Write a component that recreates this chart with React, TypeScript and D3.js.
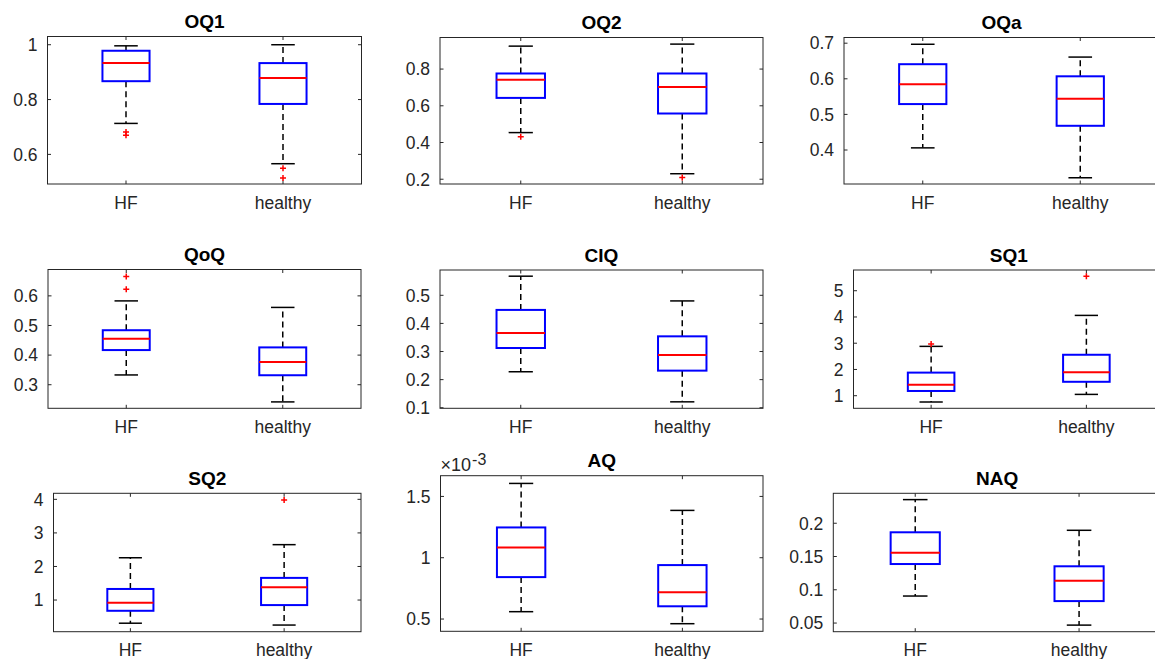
import React, { useEffect, useRef } from "react";
import * as d3 from "d3";

// nine measures, two groups each
const panelTitles = ["OQ1", "OQ2", "OQa", "QoQ", "CIQ", "SQ1", "SQ2", "AQ", "NAQ"];
const groups = ["HF", "healthy"];

// [lower whisker, Q1, median, Q3, upper whisker]
const hfStats = [
  [0.713, 0.867, 0.933, 0.978, 0.996],
  [0.454, 0.643, 0.742, 0.776, 0.925],
  [0.406, 0.529, 0.585, 0.641, 0.697],
  [0.333, 0.417, 0.455, 0.484, 0.583],
  [0.228, 0.3125, 0.366, 0.448, 0.568],
  [0.76, 1.18, 1.42, 1.88, 2.88],
  [0.31, 0.68, 0.92, 1.33, 2.26],
  [0.00056, 0.000842, 0.001084, 0.001247, 0.001606],
  [0.0906, 0.1387, 0.1558, 0.1864, 0.2355],
];
const healthyStats = [
  [0.566, 0.784, 0.879, 0.933, 1.0],
  [0.23, 0.558, 0.702, 0.776, 0.936],
  [0.322, 0.468, 0.544, 0.607, 0.661],
  [0.242, 0.332, 0.3765, 0.426, 0.561],
  [0.121, 0.232, 0.2875, 0.354, 0.48],
  [1.05, 1.53, 1.89, 2.56, 4.06],
  [0.255, 0.85, 1.38, 1.66, 2.65],
  [0.000462, 0.000604, 0.000718, 0.00094, 0.001386],
  [0.0469, 0.083, 0.1136, 0.1353, 0.1894],
];
const hfOutliers = [[0.682, 0.67], [0.432], [], [0.665, 0.622], [], [2.97], [], [], []];
const healthyOutliers = [[0.549, 0.514], [0.209], [], [], [], [5.55], [3.98], [], []];

const yTicks = [
  [0.6, 0.8, 1],
  [0.2, 0.4, 0.6, 0.8],
  [0.4, 0.5, 0.6, 0.7],
  [0.3, 0.4, 0.5, 0.6],
  [0.1, 0.2, 0.3, 0.4, 0.5],
  [1, 2, 3, 4, 5],
  [1, 2, 3, 4],
  [0.0005, 0.001, 0.0015],
  [0.05, 0.1, 0.15, 0.2],
];
const yLimits = [
  [0.492, 1.03],
  [0.174, 0.972],
  [0.3045, 0.716],
  [0.2204, 0.689],
  [0.098, 0.59],
  [0.52, 5.79],
  [0.057, 4.18],
  [0.0004, 0.001669],
  [0.037, 0.245],
];
const yExponents = [0, 0, 0, 0, 0, 0, 0, -3, 0];

// axes rectangles in px: [left, top, right, bottom]
const axesRects = [
  [47.5, 36.5, 361.5, 184],
  [440, 37.5, 763, 184],
  [844, 37.5, 1159, 184],
  [48, 269.5, 361, 408.3],
  [440, 270, 763, 408.3],
  [853.5, 270, 1164, 408.3],
  [53.5, 493.3, 361, 631.7],
  [440.5, 475.7, 763, 631.3],
  [833.3, 493.3, 1161, 631.7],
];

const FONT = "'Liberation Sans', Arial, Helvetica, sans-serif";
const AXIS = "#262626";

const App = () => {
  const svgRef = useRef<SVGSVGElement>(null);

  useEffect(() => {
    const svg = d3.select(svgRef.current);
    svg.selectAll("*").remove();
    svg.append("rect").attr("width", 1155).attr("height", 659).attr("fill", "#fff");

    panelTitles.forEach((title, i) => {
      const [x0, y0, x1, y1] = axesRects[i];
      const x = d3.scaleLinear([0.5, 2.5], [x0, x1]);
      const y = d3.scaleLinear(yLimits[i], [y1, y0]);
      const g = svg.append("g");
      const scale = Math.pow(10, yExponents[i]);
      const fmt = (v: number) => String(+(v / scale).toFixed(6));

      // axes box
      g.append("rect")
        .attr("x", x0).attr("y", y0)
        .attr("width", x1 - x0).attr("height", y1 - y0)
        .attr("fill", "#fff").attr("stroke", AXIS).attr("stroke-width", 1);

      // y ticks (inward, both sides)
      yTicks[i].forEach((t) => {
        const yy = y(t);
        g.append("line").attr("x1", x0).attr("x2", x0 + 3.5).attr("y1", yy).attr("y2", yy)
          .attr("stroke", AXIS).attr("stroke-width", 1);
        g.append("line").attr("x1", x1).attr("x2", x1 - 3.5).attr("y1", yy).attr("y2", yy)
          .attr("stroke", AXIS).attr("stroke-width", 1);
        g.append("text")
          .attr("x", x0 - 10).attr("y", yy).attr("dy", "0.36em")
          .attr("text-anchor", "end")
          .attr("font-family", FONT).attr("font-size", 17.5).attr("fill", AXIS)
          .text(fmt(t));
      });

      // x ticks and labels
      groups.forEach((name, k) => {
        const xx = x(k + 1);
        g.append("line").attr("x1", xx).attr("x2", xx).attr("y1", y1).attr("y2", y1 - 3.5)
          .attr("stroke", AXIS).attr("stroke-width", 1);
        g.append("line").attr("x1", xx).attr("x2", xx).attr("y1", y0).attr("y2", y0 + 3.5)
          .attr("stroke", AXIS).attr("stroke-width", 1);
        g.append("text")
          .attr("x", xx).attr("y", y1 + 24.5)
          .attr("text-anchor", "middle")
          .attr("font-family", FONT).attr("font-size", 17.5).attr("fill", AXIS)
          .text(name);
      });

      // title
      g.append("text")
        .attr("x", (x0 + x1) / 2).attr("y", y0 - 8.3)
        .attr("text-anchor", "middle")
        .attr("font-family", FONT).attr("font-size", 19).attr("font-weight", "bold")
        .attr("fill", "#000")
        .text(title);

      // exponent label
      if (yExponents[i] !== 0) {
        const t = g.append("text")
          .attr("x", x0).attr("y", y0 - 4.5)
          .attr("font-family", FONT).attr("font-size", 18).attr("fill", AXIS);
        t.append("tspan").text("\u00d710");
        t.append("tspan").attr("font-size", 16).attr("dy", -6).attr("dx", 1)
          .text(String(yExponents[i]));
      }

      // boxes
      const allStats = [hfStats[i], healthyStats[i]];
      const allOut = [hfOutliers[i], healthyOutliers[i]];
      allStats.forEach((s, k) => {
        const c = k + 1;
        const [lo, q1, med, q3, hi] = s;
        const bx0 = x(c - 0.15), bx1 = x(c + 0.15);
        const cx0 = x(c - 0.075), cx1 = x(c + 0.075);

        g.append("line").attr("x1", x(c)).attr("x2", x(c)).attr("y1", y(q3)).attr("y2", y(hi))
          .attr("stroke", "#000").attr("stroke-width", 1.5).attr("stroke-dasharray", "6,4");
        g.append("line").attr("x1", x(c)).attr("x2", x(c)).attr("y1", y(q1)).attr("y2", y(lo))
          .attr("stroke", "#000").attr("stroke-width", 1.5).attr("stroke-dasharray", "6,4");
        [lo, hi].forEach((v) => {
          g.append("line").attr("x1", cx0).attr("x2", cx1).attr("y1", y(v)).attr("y2", y(v))
            .attr("stroke", "#000").attr("stroke-width", 1.5);
        });
        g.append("rect")
          .attr("x", bx0).attr("y", y(q3))
          .attr("width", bx1 - bx0).attr("height", y(q1) - y(q3))
          .attr("fill", "none").attr("stroke", "#0000ff").attr("stroke-width", 2);
        g.append("line").attr("x1", bx0).attr("x2", bx1).attr("y1", y(med)).attr("y2", y(med))
          .attr("stroke", "#ff0000").attr("stroke-width", 2);

        allOut[k].forEach((v) => {
          const px = x(c), py = y(v);
          g.append("path")
            .attr("d", `M${px - 3},${py}H${px + 3}M${px},${py - 3}V${py + 3}`)
            .attr("stroke", "#ff0000").attr("stroke-width", 1.5).attr("fill", "none");
        });
      });
    });
  }, []);

  return (
    <svg
      ref={svgRef}
      width={1155}
      height={659}
      style={{ position: "fixed", left: 0, top: 0, display: "block" }}
    />
  );
};

export default App;
